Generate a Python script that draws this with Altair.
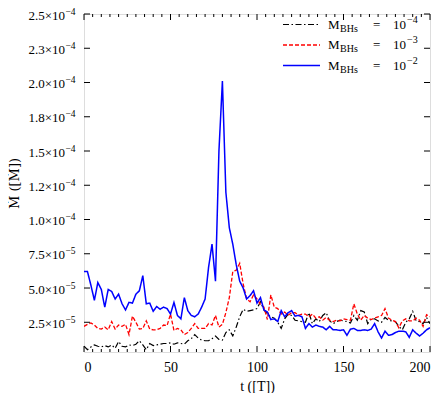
import altair as alt
import pandas as pd

# ---------------- data (values in units of 1e-5) ----------------
t_black = list(range(0, 201, 2))
v_black = [0.75, 0.5, 0.7, 0.85, 0.75, 0.7, 0.8, 0.7, 0.85, 0.6,
           1.1, 0.75, 0.7, 0.85, 0.8, 0.9, 1.15, 0.85, 0.5, 0.95,
           0.8, 0.85, 0.9, 0.95, 0.95, 1.0, 0.9, 1.0, 0.95, 0.9,
           1.15, 1.3, 1.6, 1.35, 1.2, 1.15, 1.15, 1.3, 1.5, 1.25,
           1.2, 1.75, 1.95, 1.5, 2.15, 2.9, 3.45, 3.3, 3.35, 3.4,
           3.5, 4.0, 3.4, 3.1, 2.9, 2.8, 2.5, 2.05, 2.75, 3.1,
           3.0, 2.65, 2.6, 2.55, 2.5, 3.2, 2.4, 2.75, 2.55, 3.0,
           3.2, 2.6, 2.4, 2.55, 2.65, 2.6, 2.55, 2.45, 3.0, 2.65,
           3.35, 3.25, 2.4, 2.75, 2.75, 2.6, 2.5, 2.85, 2.65, 2.6,
           2.55, 2.2, 1.95, 2.5, 2.75, 3.3, 2.6, 2.55, 2.4, 2.85,
           2.4]

t_red = list(range(0, 201, 2))
v_red = [2.2, 2.35, 2.45, 2.3, 2.05, 2.0, 2.15, 1.95, 2.55, 2.0,
         2.3, 2.2, 2.35, 1.6, 2.95, 2.5, 2.0, 2.05, 2.6, 2.0,
         1.95, 1.95, 2.05, 2.3, 2.25, 3.1, 1.9, 2.05, 1.95, 1.6,
         1.75, 2.05, 2.4, 2.05, 2.05, 2.05, 2.4, 2.3, 3.0, 2.15,
         2.35, 3.2, 4.3, 6.2, 6.3, 6.8, 5.3, 4.2, 4.0, 4.5,
         4.2, 3.8, 3.6, 2.7, 4.5, 3.6, 3.5, 3.1, 3.25, 3.0,
         3.2, 3.2, 3.0, 3.1, 3.1, 2.9, 3.1, 2.8, 2.9, 2.65,
         2.85, 2.65, 2.55, 2.65, 2.6, 2.75, 2.7, 2.65, 3.85, 3.1,
         2.65, 3.0, 2.8, 2.7, 2.8, 2.9, 3.0, 3.5, 2.8, 2.65,
         2.55, 2.1, 2.6, 2.75, 2.6, 2.6, 2.8, 2.65, 2.2, 3.05,
         2.9]

t_blue = list(range(0, 201, 2))
v_blue = [6.2, 6.2, 5.2, 4.1, 5.4, 4.9, 3.6, 4.9, 4.75, 4.2,
          4.55, 3.85, 3.4, 3.95, 3.9, 4.55, 4.8, 5.9, 3.85, 3.9,
          3.3, 3.65, 3.45, 3.6, 3.5, 3.1, 3.95, 3.0, 2.75, 4.3,
          3.35, 3.0, 2.9, 3.1, 3.6, 4.2, 6.5, 8.2, 5.5, 15.0,
          20.1, 12.0, 9.4, 8.2, 6.7, 5.5, 5.0, 4.2, 4.45, 4.8,
          3.9, 4.3, 3.4, 3.25, 2.7, 2.75, 2.55, 3.35, 2.9, 3.2,
          3.35, 2.95, 3.0, 2.9, 2.05, 2.4, 2.15, 2.3, 2.2, 2.15,
          1.95, 2.2, 1.95, 1.95, 1.9, 1.95, 1.55, 2.0, 2.05, 1.9,
          1.9, 1.95, 1.9, 2.0, 2.4, 1.8, 1.35, 1.85, 1.55, 1.6,
          1.75, 1.85, 1.85, 1.8, 1.4, 1.95, 1.7, 1.5, 1.7, 1.95,
          2.1]

series_exp = ["\u22124", "\u22123", "\u22122"]
series_colors = ["#000000", "#ff0000", "#0000ff"]
series_dash = [[6, 2.5, 1.5, 2.5], [4, 2], [1, 0]]
series_width = [1.2, 1.3, 1.5]

x_major = [0, 50, 100, 150, 200]
x_minor = [v for v in range(0, 201, 5) if v % 50 != 0]
y_ticks = [2.5e-5, 5.0e-5, 7.5e-5, 1.0e-4, 1.25e-4, 1.5e-4, 1.75e-4, 2.0e-4, 2.25e-4, 2.5e-4]
y_tick_mant = ["2.5\u00d710", "5.0\u00d710", "7.5\u00d710", "1.0\u00d710", "1.2\u00d710",
               "1.5\u00d710", "1.8\u00d710", "2.0\u00d710", "2.3\u00d710", "2.5\u00d710"]
y_tick_exp = ["\u22125", "\u22125", "\u22125", "\u22124", "\u22124",
              "\u22124", "\u22124", "\u22124", "\u22124", "\u22124"]

# ---------------- layout ----------------
W, H = 346, 338
FONT = "Liberation Serif"

xs = alt.Scale(domain=[0, 200], nice=False, zero=False)
ys = alt.Scale(domain=[3.3e-6, 2.5e-4], nice=False, zero=False)

xaxis = alt.Axis(values=x_major, ticks=False, domain=False, grid=False,
                 labelFont=FONT, labelFontSize=14, labelColor="black", labelPadding=8,
                 title="t ([T])", titleFont=FONT, titleFontSize=14, titleFontWeight="normal",
                 titleColor="black", titleX=W / 2, titleY=34, titleBaseline="middle")
yaxis = alt.Axis(values=y_ticks, ticks=False, domain=False, grid=False, labels=False,
                 title="\u1e40 ([\u1e40])", titleFont="DejaVu Serif", titleFontSize=13,
                 titleFontWeight="normal", titleColor="black",
                 titleX=-70, titleY=H / 2, titleBaseline="middle", titleAlign="center")

def xenc():
    return alt.X("t:Q", scale=xs, axis=xaxis)

def yenc():
    return alt.Y("v:Q", scale=ys, axis=yaxis)

layers = []
for ts, vs, col, dash, sw in [(t_black, v_black, series_colors[0], series_dash[0], series_width[0]),
                              (t_red, v_red, series_colors[1], series_dash[1], series_width[1]),
                              (t_blue, v_blue, series_colors[2], series_dash[2], series_width[2])]:
    df = pd.DataFrame({"t": ts, "v": [x * 1e-5 for x in vs]})
    layers.append(alt.Chart(df).mark_line(color=col, strokeWidth=sw, strokeDash=dash,
                                          clip=True).encode(x=xenc(), y=yenc()))

# inward ticks
df_xmaj = pd.DataFrame({"t": x_major})
df_xmin = pd.DataFrame({"t": x_minor})
df_y = pd.DataFrame({"v": y_ticks, "mant": y_tick_mant, "exp": y_tick_exp})
for d, ln in [(df_xmaj, 6), (df_xmin, 3)]:
    layers.append(alt.Chart(d).mark_rule(color="black", strokeWidth=1).encode(
        x=xenc(), y=alt.value(H), y2=alt.value(H - ln)))
    layers.append(alt.Chart(d).mark_rule(color="black", strokeWidth=1).encode(
        x=xenc(), y=alt.value(0), y2=alt.value(ln)))
layers.append(alt.Chart(df_y).mark_rule(color="black", strokeWidth=1).encode(
    y=yenc(), x=alt.value(0), x2=alt.value(6)))
layers.append(alt.Chart(df_y).mark_rule(color="black", strokeWidth=1).encode(
    y=yenc(), x=alt.value(W), x2=alt.value(W - 6)))

# y tick labels with superscript exponents
layers.append(alt.Chart(df_y).mark_text(font=FONT, fontSize=13, color="black", align="right",
                                        baseline="middle", dy=1.5).encode(
    y=yenc(), x=alt.value(-19), text="mant:N"))
layers.append(alt.Chart(df_y).mark_text(font=FONT, fontSize=9.5, color="black", align="left",
                                        baseline="middle", dy=-2.5).encode(
    y=yenc(), x=alt.value(-18.5), text="exp:N"))

# legend (drawn inside the plot, top right)
one = pd.DataFrame({"k": [0]})
for i in range(3):
    y0 = 10.5 + 20.5 * i
    layers.append(alt.Chart(one).mark_rule(color=series_colors[i], strokeWidth=series_width[i],
                                           strokeDash=series_dash[i]).encode(
        x=alt.value(199), x2=alt.value(236), y=alt.value(y0)))
    for txt, xx, dy, fs in [("M", 244, 0, 13), ("BHs", 256, 4, 10), ("=", 289, 0, 13),
                            ("10", 309, 0, 13), (series_exp[i], 323, -5, 10)]:
        layers.append(alt.Chart(one).mark_text(text=txt, font=FONT, fontSize=fs, color="black",
                                               align="left", baseline="middle").encode(
            x=alt.value(xx), y=alt.value(y0 + dy)))

chart = alt.layer(*layers).properties(
    width=W, height=H,
    autosize=alt.AutoSizeParams(type="none"),
    padding={"left": 76, "top": 6, "right": 5, "bottom": 41},
).configure_view(stroke="black", strokeWidth=1).configure(background="white")

chart.save("out.html", embed_options={"renderer": "svg", "actions": False})
